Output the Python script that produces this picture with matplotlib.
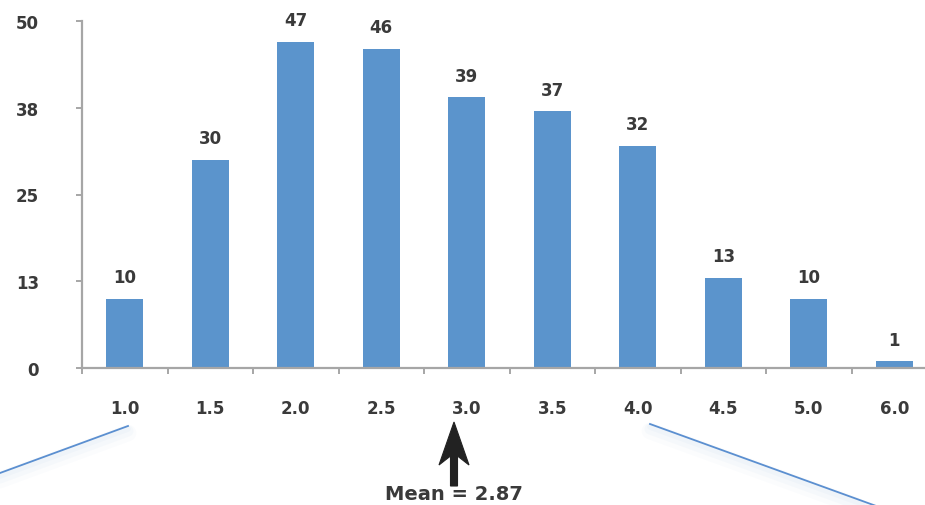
import matplotlib
matplotlib.use("Agg")
import matplotlib.pyplot as plt
from matplotlib.patches import Polygon
from matplotlib.lines import Line2D
from matplotlib.ticker import FixedLocator

# Score bins and counts
categories = ["1.0", "1.5", "2.0", "2.5", "3.0", "3.5", "4.0", "4.5", "5.0", "6.0"]
counts = [10, 30, 47, 46, 39, 37, 32, 13, 10, 1]
y_ticks = [0, 12.5, 25, 37.5, 50]
y_tick_labels = ["0", "13", "25", "38", "50"]
mean_label = "Mean = 2.87"

W, H = 925, 506
fig = plt.figure(figsize=(W / 100, H / 100), dpi=100)
fig.patch.set_facecolor("white")

# axes in pixel terms: left spine at x=82, baseline at y=369, top at y=22
ax_left, ax_right, ax_top, ax_bottom = 82, 937, 22, 369
ax = fig.add_axes([ax_left / W, 1 - ax_bottom / H,
                   (ax_right - ax_left) / W, (ax_bottom - ax_top) / H])

text_color = "#3a3a3a"
axis_color = "#a6a6a6"
bar_color = "#5b94cc"

x = list(range(len(categories)))
bars = ax.bar(x, counts, width=0.43, color=bar_color, linewidth=0, zorder=2)

for xi, v in zip(x, counts):
    ax.annotate(str(v), (xi, v), xytext=(0, 9), textcoords="offset points",
                ha="center", va="bottom", fontsize=12, fontweight="bold",
                color=text_color)

ax.set_xlim(-0.5, len(categories) - 0.5)
ax.set_ylim(0, 50)

for s in ["top", "right"]:
    ax.spines[s].set_visible(False)
for s in ["left", "bottom"]:
    ax.spines[s].set_color(axis_color)
    ax.spines[s].set_linewidth(1.6)

ax.set_xticks(x)
ax.set_xticklabels(categories)
ax.xaxis.set_minor_locator(FixedLocator([i - 0.5 for i in range(len(categories) + 1)]))
ax.tick_params(axis="x", which="major", length=0, pad=22)
ax.tick_params(axis="x", which="minor", length=4, width=1.4, color=axis_color,
               direction="out")
ax.set_yticks(y_ticks)
ax.set_yticklabels(y_tick_labels)
ax.tick_params(axis="y", length=4, width=1.4, color=axis_color, pad=27)
for lab in ax.get_xticklabels() + ax.get_yticklabels():
    lab.set_fontsize(12)
    lab.set_fontweight("bold")
    lab.set_color(text_color)


def px(xp, yp):
    return (xp / W, 1 - yp / H)


# callout lines leading away from the axis, with a soft shadow
callouts = [((0, 474), (128, 427)), ((650, 425), (890, 512))]
for (x0, y0), (x1, y1) in callouts:
    for off, lw, a in [(7, 12, 0.025), (5, 8, 0.03), (3, 4, 0.035)]:
        fig.add_artist(Line2D([px(x0, y0 + off)[0], px(x1, y1 + off)[0]],
                              [px(x0, y0 + off)[1], px(x1, y1 + off)[1]],
                              color="#5b8fd0", lw=lw, alpha=a,
                              solid_capstyle="round"))
    fig.add_artist(Line2D([px(x0, y0)[0], px(x1, y1)[0]],
                          [px(x0, y0)[1], px(x1, y1)[1]],
                          color="#5b8fd0", lw=1.3))

# arrow marking the mean
arrow_pts = [(454, 423), (469, 466), (457.5, 457), (457.5, 487), (450.5, 487),
             (450.5, 457), (439, 466)]
fig.add_artist(Polygon([px(a, b) for a, b in arrow_pts], closed=True,
                       facecolor="#222222", edgecolor="#222222", lw=0.8,
                       transform=fig.transFigure))
fig.text(454 / W, 1 - 495 / H, mean_label, ha="center", va="center",
         fontsize=14, fontweight="bold", color=text_color)

fig.savefig("out.png", dpi=100, facecolor="white")
